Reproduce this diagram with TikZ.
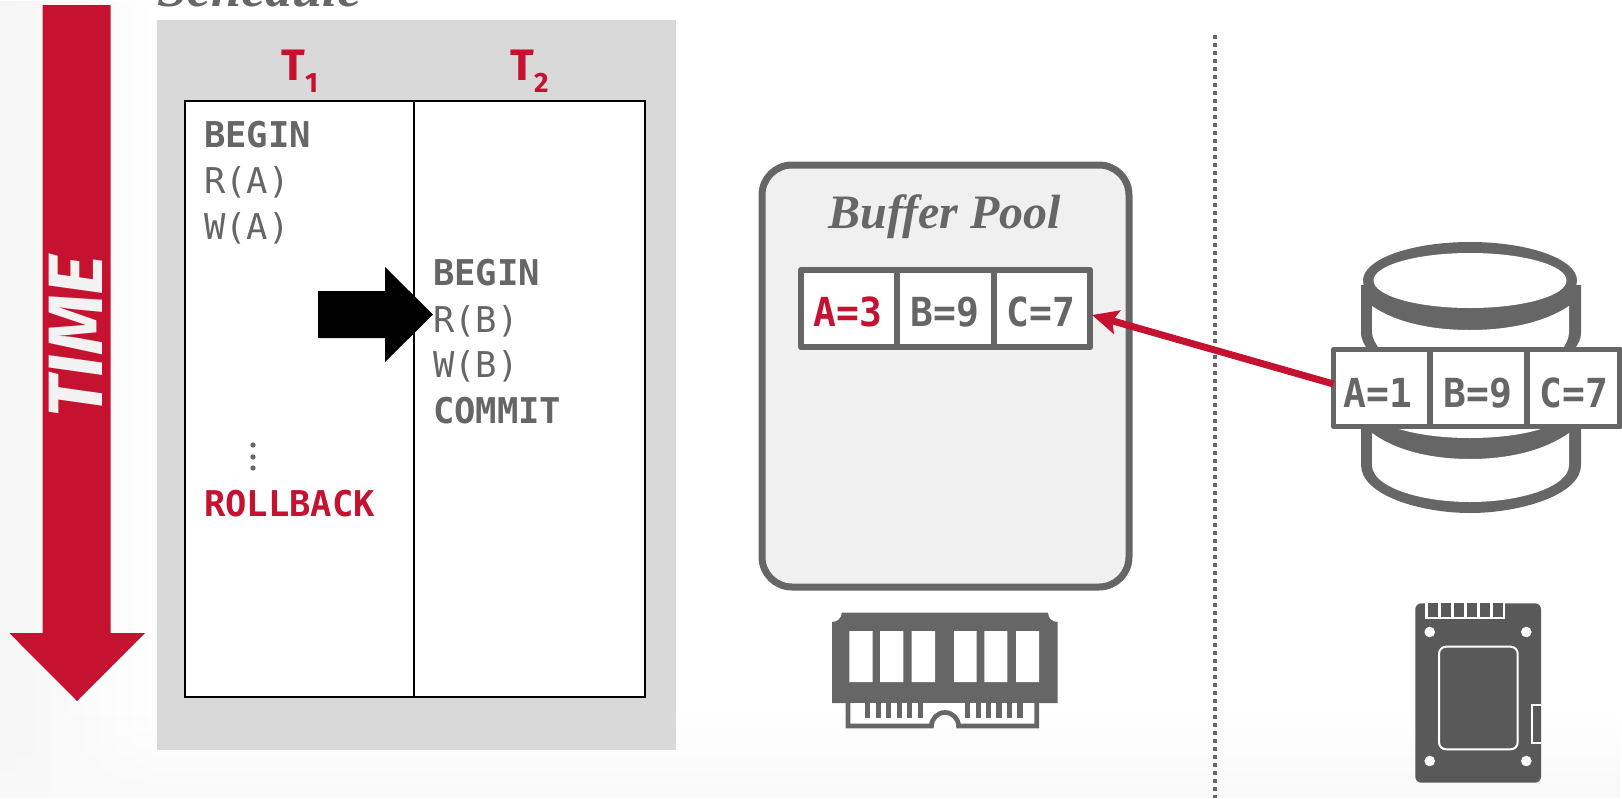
\documentclass[tikz,border=0pt]{standalone}
\usepackage{fontspec}
\usetikzlibrary{arrows.meta,fadings}
\setmainfont{Liberation Serif}
\newfontfamily\monof{DejaVu Sans Mono}
\newfontfamily\monon[FakeStretch=0.95]{DejaVu Sans Mono}
\newfontfamily\sansf{Fira Sans}
\definecolor{crim}{HTML}{C41230}
\definecolor{ink}{HTML}{666666}
\definecolor{dark}{HTML}{595959}
\tikzset{
 x=1pt,y=-1pt,
 sq/.style={inner sep=0pt,outer sep=0pt},
 cmdb/.style={sq,anchor=base west,text=ink,font=\monof\bfseries\fontsize{35.5}{35.5}\selectfont},
 cmdr/.style={sq,anchor=base west,text=ink,font=\monof\fontsize{35.5}{35.5}\selectfont},
 cellbox/.style={sq,draw=ink,line width=6.5pt,fill=white,line join=round,minimum height=77pt,anchor=north west},
 celltext/.style={sq,anchor=base,text=ink,font=\monon\bfseries\fontsize{40}{40}\selectfont},
 thead/.style={sq,anchor=base west,text=crim,font=\sansf\bfseries\fontsize{44}{44}\selectfont},
 tsub/.style={sq,anchor=base west,text=crim,font=\sansf\bfseries\fontsize{28}{28}\selectfont},
 title/.style={sq,text=ink,font=\bfseries\itshape\fontsize{48}{48}\selectfont},
}
\begin{document}
\begin{tikzpicture}
\useasboundingbox (0,0) rectangle (1622,798);
\clip (0,0) rectangle (1622,798);
\fill[white] (0,0) rectangle (1622,798);
\fill[black!3.5,path fading=east] (0,0) rectangle (150,798);
\fill[black!2.5,path fading=north] (0,715) rectangle (1622,798);
% time arrow
\fill[crim] (42.5,5) -- (110.7,5) -- (110.7,633) -- (145,633) -- (77,701) -- (9.3,633) -- (42.5,633) -- cycle;
\node[sq,rotate=90,text=black!5,font=\sansf\bfseries\itshape\fontsize{77}{77}\selectfont] (time) at (76,336.5) {TIME};
% schedule
\node[title,anchor=base west,font=\bfseries\itshape\fontsize{54}{54}\selectfont] (sched) at (157,6) {Schedule};
\fill[black!15] (157,20) rectangle (676,750);
\node[sq,draw=black,fill=white,line width=2pt,minimum width=460pt,minimum height=596pt,anchor=north west] (table) at (185,101) {};
\coordinate (midt) at (414,101);
\coordinate (midb) at (414,697);
\draw[black,line width=2pt] (midt) -- (midb);
\node[thead] (t1) at (281,80) {T};
\node[tsub] (t1s) at (305,92) {1};
\node[thead] (t2) at (510,80) {T};
\node[tsub] (t2s) at (534,92) {2};
\node[cmdb] (b1) at (204,147) {BEGIN};
\node[cmdr] (ra) at (204,193.5) {R(A)};
\node[cmdr] (wa) at (204,239) {W(A)};
\node[cmdb] (b2) at (433,285) {BEGIN};
\node[cmdr] (rb) at (433,332) {R(B)};
\node[cmdr] (wb) at (433,377) {W(B)};
\node[cmdb] (cm) at (433,423) {COMMIT};
\fill[ink] (253,445) circle (2.7) (253,457) circle (2.7) (253,468) circle (2.7);
\node[cmdb,text=crim] (rbk) at (204,516) {ROLLBACK};
\fill[black] (318,291) -- (385,291) -- (385,267) -- (433,314.5) -- (385,362) -- (385,338) -- (318,338) -- cycle;
% dotted divider
\draw[ink,line width=4pt,dash pattern=on 4pt off 4pt] (1215,35) -- (1215,798);
% buffer pool
\draw[ink,line width=7pt,fill=black!6,rounded corners=30pt] (762,165) rectangle (1129,587);
\node[title,anchor=base] (bp) at (945,228) {Buffer Pool};
\node[cellbox,minimum width=96pt] (a3) at (801,270) {};
\node[cellbox,minimum width=97pt] (b9) at (897,270) {};
\node[cellbox,minimum width=96pt] (c7) at (994,270) {};
\node[celltext,text=crim] (a3t) at (848,326) {A=3};
\node[celltext] (b9t) at (945,326) {B=9};
\node[celltext] (c7t) at (1041,326) {C=7};
% ram
\fill[ink] (841.7,612.7) -- (1048,612.7) .. controls (1048,618) and (1052,622) .. (1057.7,622) -- (1057.7,703) -- (832,703) -- (832,622) .. controls (837.5,622) and (841.7,618) .. (841.7,612.7) -- cycle;
\fill[white] (849.3,631) rectangle (872.7,682) (880,631) rectangle (903.3,682) (911.7,631) rectangle (935,682) (954,631) rectangle (976.7,682) (984.3,631) rectangle (1007.3,682) (1016,631) rectangle (1039,682);
\fill[white] (847,703) rectangle (1037,726);
\draw[ink,line width=4.7pt] (848,703) -- (848,726) -- (931.5,726) arc[start angle=-180,end angle=0,radius=13.5] -- (1036.7,726) -- (1036.7,703);
\foreach \px in {865,875.7,886,896.7,907,917.7,965,975.7,986,996.2,1006.5,1017.2}
  \fill[ink] (\px,703) rectangle ++(5.3,14.7);
% disk
\fill[ink] (1361,425) -- (1361,465) .. controls (1361,495) and (1420,513) .. (1470,513) .. controls (1520,513) and (1581,495) .. (1581,465) -- (1581,425) -- cycle;
\fill[white] (1372,433) .. controls (1395,450) and (1430,459) .. (1470,459) .. controls (1510,459) and (1545,450) .. (1569,433) -- (1569,465) .. controls (1569,487) and (1520,502) .. (1470,502) .. controls (1420,502) and (1372,487) .. (1372,465) -- cycle;
\fill[white] (1470,410) ellipse [x radius=96.5,y radius=28];
\fill[ink] (1361,285) -- (1361,332) .. controls (1361,340) and (1364,344) .. (1368,350) -- (1574,350) .. controls (1578,344) and (1581,340) .. (1581,332) -- (1581,285) -- cycle;
\fill[white] (1372,306) .. controls (1395,322) and (1430,330) .. (1470,330) .. controls (1510,330) and (1545,322) .. (1569,306) -- (1569,332) .. controls (1569,338) and (1566,344) .. (1562,350) -- (1380,350) .. controls (1376,344) and (1372,338) .. (1372,332) -- cycle;
\fill[ink] (1470,280.5) ellipse [x radius=107,y radius=38.5];
\fill[white] (1470,280.5) ellipse [x radius=96.5,y radius=27.5];
\node[cellbox,line width=5.5pt,minimum width=96.5pt] (a1) at (1333.5,349.5) {};
\node[cellbox,line width=5.5pt,minimum width=97pt] (b9d) at (1430,349.5) {};
\node[cellbox,line width=5.5pt,minimum width=93pt] (c7d) at (1527,349.5) {};
\node[celltext] (a1t) at (1378,407) {A=1};
\node[celltext] (b9dt) at (1478,407) {B=9};
\node[celltext] (c7dt) at (1574,407) {C=7};
% red arrow
\draw[crim,line width=7pt,-{Stealth[length=26pt,width=24pt,inset=5pt]}] ([yshift=4pt]a1.west) -- ([xshift=2pt,yshift=-6.5pt]c7.east);
% ssd
\fill[dark,rounded corners=6pt] (1415.3,603.3) rectangle (1541,782.7);
\fill[white] (1425,603) rectangle (1505.3,619.3);
\foreach \sx in {1428.3,1441.3,1454,1467,1480,1492.7}
  \fill[dark] (\sx,603) rectangle ++(10,13.7);
\fill[white] (1429.7,632) circle (5.3) (1526.3,632) circle (5.3) (1429.7,761) circle (5.3) (1526.3,761) circle (5.3);
\draw[white,line width=2pt,rounded corners=7pt] (1439,646.7) rectangle (1517.7,749.3);
\draw[white,line width=2pt] (1541,705) -- (1532,705) -- (1532,742.7) -- (1541,742.7);
\end{tikzpicture}
\end{document}
